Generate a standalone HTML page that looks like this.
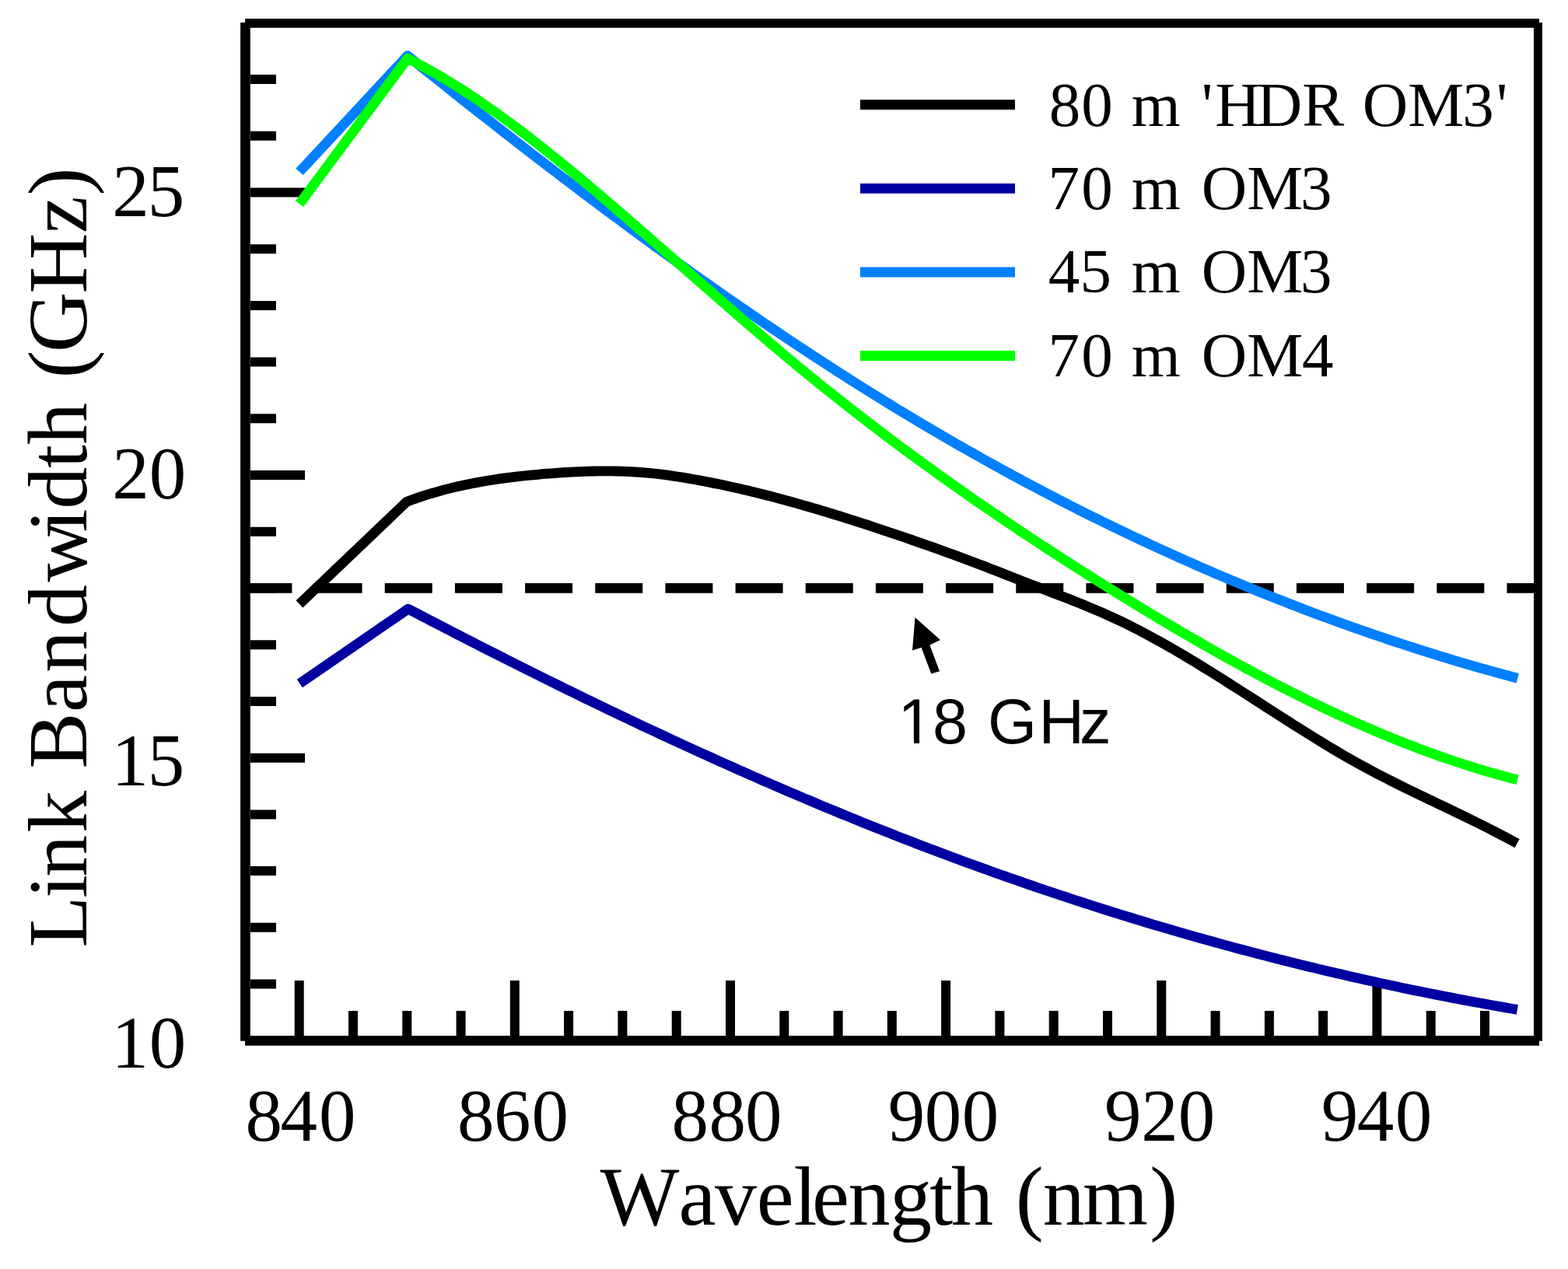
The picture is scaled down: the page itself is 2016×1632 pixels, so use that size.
<!DOCTYPE html><html><head><meta charset="utf-8"><title>Link Bandwidth vs Wavelength</title><style>html,body{margin:0;padding:0;background:#fff;overflow:hidden;}svg{display:block;}.serif{font-family:"Liberation Serif","Times New Roman",serif;}.sans{font-family:"Liberation Sans",Arial,sans-serif;}text{font-kerning:none;}</style></head><body>
<svg width="2016" height="1632" viewBox="0 0 2016 1632">
<rect width="2016" height="1632" fill="#fff"/>
<path d="M322 1265.5H355 M322 1192.8H355 M322 1120.1H355 M322 1047.4H355 M322 974.7H392 M322 901.9H355 M322 829.2H355 M322 756.5H355 M322 683.8H355 M322 611.1H392 M322 538.3H355 M322 465.6H355 M322 392.9H355 M322 320.2H355 M322 247.5H392 M322 174.7H355 M322 102.0H355 M384.7 1332V1261 M454.0 1332V1300 M523.3 1332V1300 M592.6 1332V1300 M661.8 1332V1261 M731.1 1332V1300 M800.4 1332V1300 M869.7 1332V1300 M939.0 1332V1261 M1008.3 1332V1300 M1077.6 1332V1300 M1146.8 1332V1300 M1216.1 1332V1261 M1285.4 1332V1300 M1354.7 1332V1300 M1424.0 1332V1300 M1493.3 1332V1261 M1562.6 1332V1300 M1631.9 1332V1300 M1701.1 1332V1300 M1770.4 1332V1261 M1839.7 1332V1300 M1909.0 1332V1300" stroke="#000" stroke-width="12" fill="none"/>
<path d="M314.4 756.35H1976" stroke="#000" stroke-width="12.9" stroke-dasharray="61 29.17" fill="none"/>
<path d="M385.0 776.8 L523.0 645.2 L529.0 643.0 L535.0 640.9 L541.0 638.8 L547.0 636.9 L553.0 635.0 L559.0 633.3 L565.0 631.6 L571.0 629.9 L577.0 628.4 L583.0 626.9 L589.0 625.5 L595.0 624.2 L601.0 622.9 L607.0 621.7 L613.0 620.6 L619.0 619.5 L625.0 618.5 L631.0 617.5 L637.0 616.6 L643.0 615.7 L649.0 614.9 L655.0 614.1 L661.0 613.4 L667.0 612.7 L673.0 612.0 L679.0 611.4 L685.0 610.8 L691.0 610.3 L697.0 609.7 L703.0 609.2 L709.0 608.8 L715.0 608.3 L721.0 607.9 L727.0 607.5 L733.0 607.2 L739.0 606.8 L745.0 606.6 L751.0 606.3 L757.0 606.1 L763.0 606.0 L769.0 605.9 L775.0 605.8 L781.0 605.8 L787.0 605.9 L793.0 606.0 L799.0 606.1 L805.0 606.3 L811.0 606.6 L817.0 607.0 L823.0 607.4 L829.0 607.8 L835.0 608.4 L841.0 609.0 L847.0 609.7 L853.0 610.4 L859.0 611.2 L865.0 612.1 L871.0 613.0 L877.0 613.9 L883.0 614.9 L889.0 616.0 L895.0 617.0 L901.0 618.1 L907.0 619.2 L913.0 620.4 L919.0 621.6 L925.0 622.8 L931.0 624.1 L937.0 625.4 L943.0 626.7 L949.0 628.0 L955.0 629.4 L961.0 630.8 L967.0 632.3 L973.0 633.7 L979.0 635.2 L985.0 636.8 L991.0 638.3 L997.0 639.9 L1003.0 641.5 L1009.0 643.1 L1015.0 644.7 L1021.0 646.4 L1027.0 648.1 L1033.0 649.8 L1039.0 651.5 L1045.0 653.3 L1051.0 655.0 L1057.0 656.8 L1063.0 658.7 L1069.0 660.5 L1075.0 662.3 L1081.0 664.2 L1087.0 666.1 L1093.0 668.0 L1099.0 669.9 L1105.0 671.8 L1111.0 673.8 L1117.0 675.7 L1123.0 677.7 L1129.0 679.7 L1135.0 681.7 L1141.0 683.7 L1147.0 685.7 L1153.0 687.7 L1159.0 689.8 L1165.0 691.8 L1171.0 693.9 L1177.0 696.0 L1183.0 698.1 L1189.0 700.2 L1195.0 702.3 L1201.0 704.4 L1207.0 706.5 L1213.0 708.7 L1219.0 710.9 L1225.0 713.1 L1231.0 715.3 L1237.0 717.5 L1243.0 719.7 L1249.0 722.0 L1255.0 724.2 L1261.0 726.5 L1267.0 728.8 L1273.0 731.2 L1279.0 733.5 L1285.0 735.8 L1291.0 738.2 L1297.0 740.5 L1303.0 742.9 L1309.0 745.2 L1315.0 747.6 L1321.0 749.9 L1327.0 752.2 L1333.0 754.5 L1339.0 756.8 L1345.0 759.1 L1351.0 761.4 L1357.0 763.7 L1363.0 766.0 L1369.0 768.3 L1375.0 770.6 L1381.0 773.0 L1387.0 775.4 L1393.0 777.8 L1399.0 780.3 L1405.0 782.8 L1411.0 785.3 L1417.0 787.9 L1423.0 790.6 L1429.0 793.3 L1435.0 796.1 L1441.0 798.9 L1447.0 801.8 L1453.0 804.8 L1459.0 807.9 L1465.0 810.9 L1471.0 814.1 L1477.0 817.3 L1483.0 820.6 L1489.0 823.9 L1495.0 827.2 L1501.0 830.6 L1507.0 834.0 L1513.0 837.5 L1519.0 841.1 L1525.0 844.6 L1531.0 848.2 L1537.0 851.8 L1543.0 855.5 L1549.0 859.2 L1555.0 862.9 L1561.0 866.6 L1567.0 870.4 L1573.0 874.2 L1579.0 878.0 L1585.0 881.8 L1591.0 885.6 L1597.0 889.5 L1603.0 893.3 L1609.0 897.2 L1615.0 901.0 L1621.0 904.9 L1627.0 908.8 L1633.0 912.6 L1639.0 916.5 L1645.0 920.4 L1651.0 924.2 L1657.0 928.0 L1663.0 931.8 L1669.0 935.6 L1675.0 939.4 L1681.0 943.2 L1687.0 946.9 L1693.0 950.6 L1699.0 954.3 L1705.0 957.9 L1711.0 961.6 L1717.0 965.1 L1723.0 968.7 L1729.0 972.2 L1735.0 975.6 L1741.0 979.0 L1747.0 982.3 L1753.0 985.6 L1759.0 988.9 L1765.0 992.1 L1771.0 995.3 L1777.0 998.4 L1783.0 1001.4 L1789.0 1004.5 L1795.0 1007.5 L1801.0 1010.5 L1807.0 1013.4 L1813.0 1016.4 L1819.0 1019.3 L1825.0 1022.2 L1831.0 1025.1 L1837.0 1028.0 L1843.0 1030.8 L1849.0 1033.7 L1855.0 1036.6 L1861.0 1039.4 L1867.0 1042.3 L1873.0 1045.2 L1879.0 1048.1 L1885.0 1051.0 L1891.0 1053.9 L1897.0 1056.9 L1903.0 1059.9 L1909.0 1062.9 L1915.0 1065.9 L1921.0 1069.0 L1927.0 1072.1 L1933.0 1075.2 L1939.0 1078.4 L1945.0 1081.6 L1950.6 1084.7" stroke="#000000" stroke-width="12.8" fill="none" stroke-linejoin="round" stroke-linecap="butt"/>
<path d="M385.3 879.0 L524.8 783.1 L530.8 786.2 L536.8 789.3 L542.8 792.5 L548.8 795.6 L554.8 798.7 L560.8 801.8 L566.8 804.9 L572.8 808.0 L578.8 811.1 L584.8 814.2 L590.8 817.3 L596.8 820.4 L602.8 823.5 L608.8 826.5 L614.8 829.6 L620.8 832.7 L626.8 835.7 L632.8 838.8 L638.8 841.8 L644.8 844.8 L650.8 847.9 L656.8 850.9 L662.8 853.9 L668.8 856.9 L674.8 859.9 L680.8 862.9 L686.8 865.9 L692.8 868.9 L698.8 871.9 L704.8 874.9 L710.8 877.8 L716.8 880.8 L722.8 883.7 L728.8 886.7 L734.8 889.6 L740.8 892.5 L746.8 895.5 L752.8 898.4 L758.8 901.3 L764.8 904.2 L770.8 907.1 L776.8 910.0 L782.8 912.9 L788.8 915.8 L794.8 918.6 L800.8 921.5 L806.8 924.3 L812.8 927.2 L818.8 930.0 L824.8 932.9 L830.8 935.7 L836.8 938.5 L842.8 941.3 L848.8 944.1 L854.8 946.9 L860.8 949.7 L866.8 952.5 L872.8 955.3 L878.8 958.0 L884.8 960.8 L890.8 963.5 L896.8 966.3 L902.8 969.0 L908.8 971.7 L914.8 974.4 L920.8 977.1 L926.8 979.8 L932.8 982.5 L938.8 985.2 L944.8 987.9 L950.8 990.6 L956.8 993.2 L962.8 995.9 L968.8 998.5 L974.8 1001.1 L980.8 1003.8 L986.8 1006.4 L992.8 1009.0 L998.8 1011.6 L1004.8 1014.2 L1010.8 1016.8 L1016.8 1019.3 L1022.8 1021.9 L1028.8 1024.4 L1034.8 1027.0 L1040.8 1029.5 L1046.8 1032.0 L1052.8 1034.6 L1058.8 1037.1 L1064.8 1039.6 L1070.8 1042.0 L1076.8 1044.5 L1082.8 1047.0 L1088.8 1049.4 L1094.8 1051.9 L1100.8 1054.3 L1106.8 1056.8 L1112.8 1059.2 L1118.8 1061.6 L1124.8 1064.0 L1130.8 1066.4 L1136.8 1068.8 L1142.8 1071.1 L1148.8 1073.5 L1154.8 1075.9 L1160.8 1078.2 L1166.8 1080.5 L1172.8 1082.8 L1178.8 1085.2 L1184.8 1087.5 L1190.8 1089.7 L1196.8 1092.0 L1202.8 1094.3 L1208.8 1096.6 L1214.8 1098.8 L1220.8 1101.0 L1226.8 1103.3 L1232.8 1105.5 L1238.8 1107.7 L1244.8 1109.9 L1250.8 1112.1 L1256.8 1114.3 L1262.8 1116.4 L1268.8 1118.6 L1274.8 1120.7 L1280.8 1122.9 L1286.8 1125.0 L1292.8 1127.1 L1298.8 1129.2 L1304.8 1131.3 L1310.8 1133.4 L1316.8 1135.5 L1322.8 1137.6 L1328.8 1139.6 L1334.8 1141.7 L1340.8 1143.7 L1346.8 1145.7 L1352.8 1147.8 L1358.8 1149.8 L1364.8 1151.8 L1370.8 1153.7 L1376.8 1155.7 L1382.8 1157.7 L1388.8 1159.6 L1394.8 1161.6 L1400.8 1163.5 L1406.8 1165.5 L1412.8 1167.4 L1418.8 1169.3 L1424.8 1171.2 L1430.8 1173.1 L1436.8 1174.9 L1442.8 1176.8 L1448.8 1178.7 L1454.8 1180.5 L1460.8 1182.3 L1466.8 1184.2 L1472.8 1186.0 L1478.8 1187.8 L1484.8 1189.6 L1490.8 1191.4 L1496.8 1193.1 L1502.8 1194.9 L1508.8 1196.7 L1514.8 1198.4 L1520.8 1200.1 L1526.8 1201.9 L1532.8 1203.6 L1538.8 1205.3 L1544.8 1207.0 L1550.8 1208.7 L1556.8 1210.3 L1562.8 1212.0 L1568.8 1213.6 L1574.8 1215.3 L1580.8 1216.9 L1586.8 1218.6 L1592.8 1220.2 L1598.8 1221.8 L1604.8 1223.4 L1610.8 1224.9 L1616.8 1226.5 L1622.8 1228.1 L1628.8 1229.6 L1634.8 1231.2 L1640.8 1232.7 L1646.8 1234.2 L1652.8 1235.8 L1658.8 1237.3 L1664.8 1238.8 L1670.8 1240.2 L1676.8 1241.7 L1682.8 1243.2 L1688.8 1244.6 L1694.8 1246.1 L1700.8 1247.5 L1706.8 1248.9 L1712.8 1250.3 L1718.8 1251.7 L1724.8 1253.1 L1730.8 1254.5 L1736.8 1255.9 L1742.8 1257.3 L1748.8 1258.6 L1754.8 1260.0 L1760.8 1261.3 L1766.8 1262.6 L1772.8 1263.9 L1778.8 1265.2 L1784.8 1266.5 L1790.8 1267.8 L1796.8 1269.1 L1802.8 1270.4 L1808.8 1271.6 L1814.8 1272.9 L1820.8 1274.1 L1826.8 1275.3 L1832.8 1276.5 L1838.8 1277.7 L1844.8 1278.9 L1850.8 1280.1 L1856.8 1281.3 L1862.8 1282.4 L1868.8 1283.6 L1874.8 1284.7 L1880.8 1285.9 L1886.8 1287.0 L1892.8 1288.1 L1898.8 1289.2 L1904.8 1290.3 L1910.8 1291.4 L1916.8 1292.5 L1922.8 1293.5 L1928.8 1294.6 L1934.8 1295.6 L1940.8 1296.7 L1946.8 1297.7 L1950.8 1298.4" stroke="#0000A0" stroke-width="12.8" fill="none" stroke-linejoin="round" stroke-linecap="butt"/>
<path d="M385.0 221.0 L524.0 71.7 L530.0 76.5 L536.0 81.3 L542.0 86.2 L548.0 91.0 L554.0 95.8 L560.0 100.5 L566.0 105.3 L572.0 110.1 L578.0 114.9 L584.0 119.7 L590.0 124.4 L596.0 129.2 L602.0 133.9 L608.0 138.6 L614.0 143.4 L620.0 148.1 L626.0 152.8 L632.0 157.5 L638.0 162.2 L644.0 166.9 L650.0 171.6 L656.0 176.2 L662.0 180.9 L668.0 185.6 L674.0 190.2 L680.0 194.8 L686.0 199.5 L692.0 204.1 L698.0 208.7 L704.0 213.3 L710.0 217.9 L716.0 222.5 L722.0 227.1 L728.0 231.6 L734.0 236.2 L740.0 240.7 L746.0 245.3 L752.0 249.8 L758.0 254.3 L764.0 258.8 L770.0 263.3 L776.0 267.8 L782.0 272.3 L788.0 276.8 L794.0 281.2 L800.0 285.7 L806.0 290.1 L812.0 294.5 L818.0 298.9 L824.0 303.4 L830.0 307.7 L836.0 312.1 L842.0 316.5 L848.0 320.9 L854.0 325.2 L860.0 329.5 L866.0 333.9 L872.0 338.2 L878.0 342.5 L884.0 346.8 L890.0 351.1 L896.0 355.3 L902.0 359.6 L908.0 363.8 L914.0 368.0 L920.0 372.3 L926.0 376.5 L932.0 380.7 L938.0 384.8 L944.0 389.0 L950.0 393.2 L956.0 397.3 L962.0 401.4 L968.0 405.5 L974.0 409.6 L980.0 413.7 L986.0 417.8 L992.0 421.9 L998.0 425.9 L1004.0 430.0 L1010.0 434.0 L1016.0 438.0 L1022.0 442.0 L1028.0 446.0 L1034.0 449.9 L1040.0 453.9 L1046.0 457.8 L1052.0 461.7 L1058.0 465.6 L1064.0 469.5 L1070.0 473.4 L1076.0 477.3 L1082.0 481.1 L1088.0 484.9 L1094.0 488.8 L1100.0 492.6 L1106.0 496.4 L1112.0 500.1 L1118.0 503.9 L1124.0 507.6 L1130.0 511.3 L1136.0 515.1 L1142.0 518.8 L1148.0 522.4 L1154.0 526.1 L1160.0 529.7 L1166.0 533.4 L1172.0 537.0 L1178.0 540.6 L1184.0 544.2 L1190.0 547.7 L1196.0 551.3 L1202.0 554.8 L1208.0 558.3 L1214.0 561.8 L1220.0 565.3 L1226.0 568.7 L1232.0 572.2 L1238.0 575.6 L1244.0 579.0 L1250.0 582.4 L1256.0 585.8 L1262.0 589.2 L1268.0 592.5 L1274.0 595.9 L1280.0 599.2 L1286.0 602.5 L1292.0 605.8 L1298.0 609.0 L1304.0 612.3 L1310.0 615.5 L1316.0 618.8 L1322.0 622.0 L1328.0 625.2 L1334.0 628.3 L1340.0 631.5 L1346.0 634.6 L1352.0 637.7 L1358.0 640.9 L1364.0 644.0 L1370.0 647.0 L1376.0 650.1 L1382.0 653.1 L1388.0 656.2 L1394.0 659.2 L1400.0 662.2 L1406.0 665.2 L1412.0 668.1 L1418.0 671.1 L1424.0 674.0 L1430.0 676.9 L1436.0 679.8 L1442.0 682.7 L1448.0 685.6 L1454.0 688.5 L1460.0 691.3 L1466.0 694.1 L1472.0 696.9 L1478.0 699.7 L1484.0 702.5 L1490.0 705.3 L1496.0 708.0 L1502.0 710.8 L1508.0 713.5 L1514.0 716.2 L1520.0 718.9 L1526.0 721.5 L1532.0 724.2 L1538.0 726.8 L1544.0 729.5 L1550.0 732.1 L1556.0 734.7 L1562.0 737.3 L1568.0 739.8 L1574.0 742.4 L1580.0 744.9 L1586.0 747.4 L1592.0 749.9 L1598.0 752.4 L1604.0 754.9 L1610.0 757.4 L1616.0 759.8 L1622.0 762.2 L1628.0 764.6 L1634.0 767.0 L1640.0 769.4 L1646.0 771.8 L1652.0 774.1 L1658.0 776.5 L1664.0 778.8 L1670.0 781.1 L1676.0 783.4 L1682.0 785.7 L1688.0 787.9 L1694.0 790.2 L1700.0 792.4 L1706.0 794.6 L1712.0 796.8 L1718.0 799.0 L1724.0 801.2 L1730.0 803.3 L1736.0 805.5 L1742.0 807.6 L1748.0 809.7 L1754.0 811.8 L1760.0 813.9 L1766.0 816.0 L1772.0 818.0 L1778.0 820.0 L1784.0 822.1 L1790.0 824.1 L1796.0 826.1 L1802.0 828.0 L1808.0 830.0 L1814.0 831.9 L1820.0 833.9 L1826.0 835.8 L1832.0 837.7 L1838.0 839.6 L1844.0 841.4 L1850.0 843.3 L1856.0 845.1 L1862.0 846.9 L1868.0 848.8 L1874.0 850.6 L1880.0 852.3 L1886.0 854.1 L1892.0 855.8 L1898.0 857.6 L1904.0 859.3 L1910.0 861.0 L1916.0 862.7 L1922.0 864.4 L1928.0 866.0 L1934.0 867.7 L1940.0 869.3 L1946.0 870.9 L1951.2 872.3" stroke="#0080FF" stroke-width="12.8" fill="none" stroke-linejoin="round" stroke-linecap="butt"/>
<path d="M385.0 262.2 L524.0 75.2 L530.0 78.2 L536.0 81.3 L542.0 84.5 L548.0 87.8 L554.0 91.1 L560.0 94.5 L566.0 98.0 L572.0 101.6 L578.0 105.2 L584.0 108.9 L590.0 112.7 L596.0 116.5 L602.0 120.4 L608.0 124.4 L614.0 128.4 L620.0 132.5 L626.0 136.7 L632.0 140.9 L638.0 145.1 L644.0 149.4 L650.0 153.8 L656.0 158.2 L662.0 162.7 L668.0 167.2 L674.0 171.7 L680.0 176.4 L686.0 181.0 L692.0 185.7 L698.0 190.4 L704.0 195.2 L710.0 200.0 L716.0 204.8 L722.0 209.7 L728.0 214.6 L734.0 219.5 L740.0 224.5 L746.0 229.5 L752.0 234.5 L758.0 239.6 L764.0 244.6 L770.0 249.7 L776.0 254.8 L782.0 260.0 L788.0 265.1 L794.0 270.3 L800.0 275.4 L806.0 280.6 L812.0 285.8 L818.0 291.1 L824.0 296.3 L830.0 301.5 L836.0 306.8 L842.0 312.0 L848.0 317.3 L854.0 322.5 L860.0 327.8 L866.0 333.1 L872.0 338.3 L878.0 343.6 L884.0 348.9 L890.0 354.2 L896.0 359.4 L902.0 364.7 L908.0 370.0 L914.0 375.2 L920.0 380.5 L926.0 385.7 L932.0 391.0 L938.0 396.2 L944.0 401.4 L950.0 406.6 L956.0 411.8 L962.0 417.0 L968.0 422.1 L974.0 427.3 L980.0 432.4 L986.0 437.5 L992.0 442.6 L998.0 447.7 L1004.0 452.8 L1010.0 457.8 L1016.0 462.8 L1022.0 467.8 L1028.0 472.8 L1034.0 477.7 L1040.0 482.6 L1046.0 487.5 L1052.0 492.4 L1058.0 497.2 L1064.0 502.0 L1070.0 506.8 L1076.0 511.6 L1082.0 516.3 L1088.0 521.1 L1094.0 525.8 L1100.0 530.4 L1106.0 535.1 L1112.0 539.7 L1118.0 544.4 L1124.0 548.9 L1130.0 553.5 L1136.0 558.1 L1142.0 562.6 L1148.0 567.1 L1154.0 571.6 L1160.0 576.1 L1166.0 580.5 L1172.0 584.9 L1178.0 589.3 L1184.0 593.7 L1190.0 598.1 L1196.0 602.4 L1202.0 606.7 L1208.0 611.1 L1214.0 615.3 L1220.0 619.6 L1226.0 623.9 L1232.0 628.1 L1238.0 632.3 L1244.0 636.5 L1250.0 640.7 L1256.0 644.9 L1262.0 649.0 L1268.0 653.1 L1274.0 657.2 L1280.0 661.3 L1286.0 665.4 L1292.0 669.5 L1298.0 673.5 L1304.0 677.6 L1310.0 681.6 L1316.0 685.6 L1322.0 689.5 L1328.0 693.5 L1334.0 697.5 L1340.0 701.4 L1346.0 705.3 L1352.0 709.2 L1358.0 713.1 L1364.0 717.0 L1370.0 720.9 L1376.0 724.7 L1382.0 728.6 L1388.0 732.4 L1394.0 736.2 L1400.0 740.0 L1406.0 743.8 L1412.0 747.6 L1418.0 751.3 L1424.0 755.1 L1430.0 758.8 L1436.0 762.5 L1442.0 766.3 L1448.0 770.0 L1454.0 773.6 L1460.0 777.3 L1466.0 781.0 L1472.0 784.6 L1478.0 788.2 L1484.0 791.8 L1490.0 795.4 L1496.0 799.0 L1502.0 802.6 L1508.0 806.1 L1514.0 809.7 L1520.0 813.2 L1526.0 816.7 L1532.0 820.2 L1538.0 823.6 L1544.0 827.1 L1550.0 830.5 L1556.0 833.9 L1562.0 837.3 L1568.0 840.7 L1574.0 844.1 L1580.0 847.4 L1586.0 850.7 L1592.0 854.0 L1598.0 857.3 L1604.0 860.5 L1610.0 863.7 L1616.0 867.0 L1622.0 870.1 L1628.0 873.3 L1634.0 876.4 L1640.0 879.6 L1646.0 882.7 L1652.0 885.7 L1658.0 888.8 L1664.0 891.8 L1670.0 894.8 L1676.0 897.8 L1682.0 900.7 L1688.0 903.7 L1694.0 906.6 L1700.0 909.4 L1706.0 912.3 L1712.0 915.1 L1718.0 917.9 L1724.0 920.7 L1730.0 923.4 L1736.0 926.1 L1742.0 928.8 L1748.0 931.5 L1754.0 934.1 L1760.0 936.7 L1766.0 939.3 L1772.0 941.8 L1778.0 944.4 L1784.0 946.8 L1790.0 949.3 L1796.0 951.7 L1802.0 954.1 L1808.0 956.5 L1814.0 958.8 L1820.0 961.1 L1826.0 963.4 L1832.0 965.6 L1838.0 967.8 L1844.0 970.0 L1850.0 972.1 L1856.0 974.2 L1862.0 976.3 L1868.0 978.3 L1874.0 980.3 L1880.0 982.3 L1886.0 984.2 L1892.0 986.1 L1898.0 988.0 L1904.0 989.8 L1910.0 991.6 L1916.0 993.3 L1922.0 995.0 L1928.0 996.7 L1934.0 998.4 L1940.0 1000.0 L1946.0 1001.5 L1951.0 1002.8" stroke="#00FF00" stroke-width="12.8" fill="none" stroke-linejoin="round" stroke-linecap="butt"/>
<path d="M315.1 29.8H1979" stroke="#000" stroke-width="11.8" fill="none"/>
<path d="M315.45 29.1V1338.8" stroke="#000" stroke-width="12.7" fill="none"/>
<path d="M315 1338.35H1979" stroke="#000" stroke-width="12.9" fill="none"/>
<path d="M1977.5 29.1V1338.7" stroke="#000" stroke-width="11" fill="none"/>
<path d="M1106 134.7H1305" stroke="#000" stroke-width="12.8" fill="none"/>
<text class="serif" x="1348.8 1390.2 1430.8 1454.7 1517.7 1544.8 1562.3 1615.7 1674.2 1728.2 1751.8 1810.3 1880.3 1923.8" y="161.8" font-size="81">80 m &#39;HDR OM3&#39;</text>
<path d="M1106 242.3H1305" stroke="#0000A0" stroke-width="12.8" fill="none"/>
<text class="serif" x="1347.4 1390.2 1430.7 1454.8 1517.8 1544.8 1603.3 1671.9" y="269.0" font-size="81">70 m OM3</text>
<path d="M1106 350.0H1305" stroke="#0080FF" stroke-width="12.8" fill="none"/>
<text class="serif" x="1347.8 1388.5 1429.0 1454.8 1517.8 1544.8 1603.3 1672.1" y="376.4" font-size="81">45 m OM3</text>
<path d="M1106 457.5H1305" stroke="#00FF00" stroke-width="12.8" fill="none"/>
<text class="serif" x="1347.4 1390.2 1430.7 1454.8 1517.8 1544.8 1603.3 1674.1" y="483.7" font-size="81">70 m OM4</text>
<text class="serif" x="315.5 360.4 409.9" y="1467.0" font-size="95">840</text>
<text class="serif" x="588.1 634.9 683.5" y="1467.0" font-size="95">860</text>
<text class="serif" x="863.4 911.4 957.9" y="1467.0" font-size="95">880</text>
<text class="serif" x="1141.7 1188.8 1236.8" y="1467.0" font-size="95">900</text>
<text class="serif" x="1420.0 1467.2 1514.8" y="1467.0" font-size="95">920</text>
<text class="serif" x="1698.7 1744.8 1793.8" y="1467.0" font-size="95">940</text>
<text class="serif" x="144.2 189.7" y="277.8" font-size="95">25</text>
<text class="serif" x="144.2 191.7" y="640.8" font-size="95">20</text>
<text class="serif" x="143.4 189.7" y="1010.0" font-size="95">15</text>
<text class="serif" x="143.4 191.7" y="1372.9" font-size="95">10</text>
<text class="serif" x="771.4 872.6 919.0 972.7 1020.4 1043.9 1090.6 1144.0 1195.2 1223.0 1277.0 1305.8 1340.7 1392.0 1478.2" y="1574.8" font-size="108">Wavelength (nm)</text>
<g transform="translate(111.4 0) rotate(-90)"><text class="serif" x="-1218.4 -1155.1 -1127.8 -1070.8 -1016.8 -988.6 -916.0 -865.1 -806.0 -748.5 -684.5 -654.8 -602.1 -571.7 -517.7 -486.4 -453.2 -377.4 -300.3 -251.6" y="0.0" font-size="108">Link Bandwidth (GHz)</text></g>
<path d="M1176.5 794L1209 823L1195.4 829.6L1208 863.3L1197.3 866.6L1184.6 832.8L1173 836.5Z" fill="#000"/>
<text class="sans" x="1154.6 1198.9 1243.9 1269.9 1335.6 1388.1" y="955.9" font-size="81">18 GHz</text>
<path d="M1159.5 949.3H1175V957.5H1159.5ZM1182.1 949.3H1197V957.5H1182.1Z" fill="#fff"/>
</svg></body></html>
